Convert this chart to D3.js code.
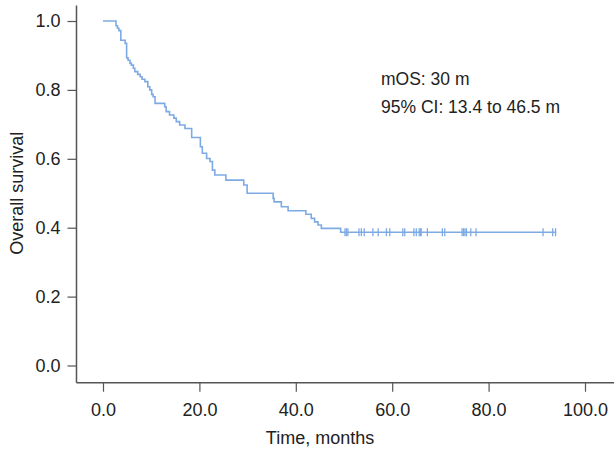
<!DOCTYPE html>
<html>
<head>
<meta charset="utf-8">
<script src="https://cdn.jsdelivr.net/npm/d3@7"></script>
<style>
  html, body { margin: 0; padding: 0; background: #fff; }
  svg { display: block; }
  text { font-family: "Liberation Sans", Arial, Helvetica, sans-serif; fill: #222; }
</style>
</head>
<body>
<svg id="chart" width="614" height="453"></svg>
<script>
// Kaplan-Meier step data: time of drop (months) and survival after the drop
const stepTimes = [0, 2.7, 3.0, 3.3, 3.7, 4.6, 4.9, 5.2, 5.6, 5.9, 6.3, 6.6, 7.2, 7.7, 8.1, 8.7, 9.3, 9.7, 10.1, 10.4, 10.8,
  12.8, 13.1, 13.8, 14.7, 15.2, 15.9, 17.0, 18.4, 20.2, 20.6, 21.5, 22.2, 22.7, 23.2, 25.5, 29.2, 29.9,
  35.3, 35.5, 37.0, 38.4, 42.1, 43.2, 43.9, 44.6, 45.3, 49.3];
const stepSurv = [1.0, 0.986, 0.979, 0.972, 0.944, 0.935, 0.893, 0.886, 0.877, 0.872, 0.863, 0.853, 0.845, 0.838, 0.831, 0.824, 0.809, 0.800, 0.787, 0.780, 0.761,
  0.751, 0.737, 0.727, 0.718, 0.708, 0.698, 0.688, 0.662, 0.635, 0.616, 0.601, 0.592, 0.567, 0.553, 0.538, 0.524, 0.500,
  0.485, 0.475, 0.461, 0.449, 0.439, 0.427, 0.417, 0.408, 0.398, 0.387];
const lastTime = 94.0;
// censored observations (months)
const censorTimes = [50.2, 50.5, 50.8, 53.1, 53.6, 54.2, 56.0, 57.1, 58.8, 59.5, 62.2, 62.6, 64.5, 65.0, 65.6, 65.9, 66.0,
  67.3, 70.4, 70.9, 74.5, 74.8, 75.1, 75.4, 76.3, 77.4, 91.3, 93.3, 93.9];
const xTicks = [0, 20, 40, 60, 80, 100];
const yTicks = [0, 0.2, 0.4, 0.6, 0.8, 1.0];
const annotations = ["mOS: 30 m", "95% CI: 13.4 to 46.5 m"];
const xTitle = "Time, months";
const yTitle = "Overall survival";

const svg = d3.select("#chart");
const x = d3.scaleLinear().domain([0, 100]).range([103, 585]);
const y = d3.scaleLinear().domain([0, 1]).range([365.5, 21]);
const axisColor = "#555";
const curveColor = "#7eaae4";
const fontSize = 18;

// axis lines
const xAxisY = y(-0.05);
const yAxisX = x(-5.5);
svg.append("line").attr("x1", yAxisX).attr("x2", 614).attr("y1", xAxisY).attr("y2", xAxisY)
  .attr("stroke", axisColor).attr("stroke-width", 1.5);
svg.append("line").attr("x1", yAxisX).attr("x2", yAxisX).attr("y1", y(1.045)).attr("y2", xAxisY)
  .attr("stroke", axisColor).attr("stroke-width", 1.5);

// x axis ticks
const gx = svg.append("g").attr("transform", `translate(0,${xAxisY})`)
  .call(d3.axisBottom(x).tickValues(xTicks).tickFormat(d3.format(".1f")).tickSize(9).tickSizeOuter(0).tickPadding(12));
gx.select(".domain").remove();
gx.selectAll(".tick line").attr("stroke", axisColor).attr("stroke-width", 1.2);
gx.selectAll(".tick text").attr("font-size", fontSize).attr("font-family", null).style("fill", "#222");

// y axis ticks
const gy = svg.append("g").attr("transform", `translate(${yAxisX},0)`)
  .call(d3.axisLeft(y).tickValues(yTicks).tickFormat(d3.format(".1f")).tickSize(9).tickSizeOuter(0).tickPadding(7));
gy.select(".domain").remove();
gy.selectAll(".tick line").attr("stroke", axisColor).attr("stroke-width", 1.2);
gy.selectAll(".tick text").attr("font-size", fontSize).attr("font-family", null).style("fill", "#222");

// titles
svg.append("text").attr("x", 320).attr("y", 444).attr("text-anchor", "middle")
  .attr("font-size", fontSize).text(xTitle);
svg.append("text").attr("transform", `translate(23, ${y(0.5)}) rotate(-90)`).attr("text-anchor", "middle")
  .attr("font-size", fontSize).text(yTitle);

// KM curve
const pts = stepTimes.map((t, i) => [t, stepSurv[i]]);
pts.push([lastTime, stepSurv[stepSurv.length - 1]]);
const line = d3.line().x(d => x(d[0])).y(d => y(d[1])).curve(d3.curveStepAfter);
svg.append("path").datum(pts).attr("d", line).attr("fill", "none")
  .attr("stroke", curveColor).attr("stroke-width", 1.6);

// censor marks
const survAt = t => { let s = 1; for (let i = 0; i < stepTimes.length; i++) if (stepTimes[i] <= t) s = stepSurv[i]; return s; };
svg.append("g").selectAll("line").data(censorTimes).join("line")
  .attr("x1", d => x(d)).attr("x2", d => x(d))
  .attr("y1", d => y(survAt(d)) - 4).attr("y2", d => y(survAt(d)) + 4)
  .attr("stroke", curveColor).attr("stroke-width", 1.3);

// annotation
svg.selectAll("text.ann").data(annotations).join("text").attr("class", "ann")
  .attr("x", 381).attr("y", (d, i) => 85 + i * 28).attr("font-size", 17.5).text(d => d);
</script>
</body>
</html>
